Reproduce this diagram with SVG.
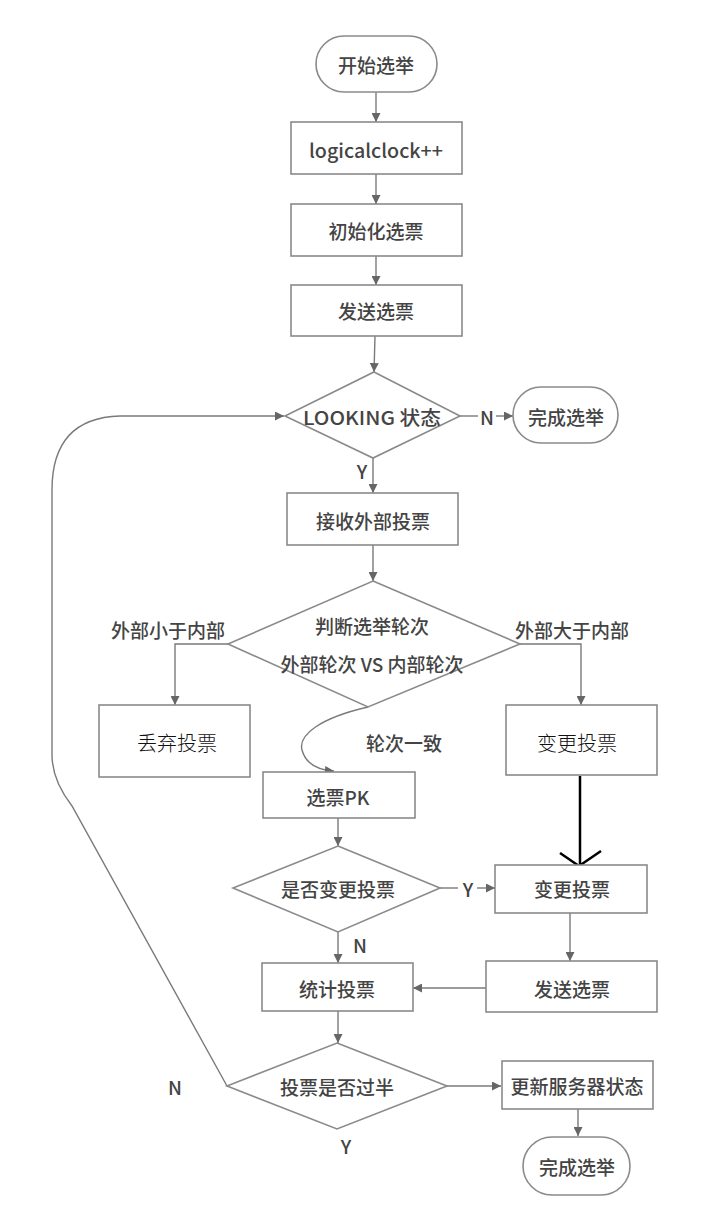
<svg xmlns="http://www.w3.org/2000/svg" width="728" height="1224" viewBox="0 0 728 1224">
<defs>
<marker id="ah" markerUnits="userSpaceOnUse" markerWidth="10" markerHeight="9" refX="9" refY="4.5" orient="auto">
<path d="M0,0 L9,4.5 L0,9 Z" fill="#666"/>
</marker>
<style>
.box{fill:#fff;stroke:#8a8a8a;stroke-width:1.6}
.ln{fill:none;stroke:#7a7a7a;stroke-width:1.4}
.t{font-family:"Noto Sans CJK SC","Noto Sans",sans-serif;font-size:19px;font-weight:500;fill:#444;text-anchor:middle;dominant-baseline:central}
.tk{font-family:"Noto Sans CJK SC","Noto Sans",sans-serif;font-size:20px;font-weight:300;fill:#111;text-anchor:middle;dominant-baseline:central}
</style>
</defs>
<rect width="728" height="1224" fill="#fff"/>

<g id="connectors">
<line class="ln" x1="376" y1="92" x2="376" y2="122" marker-end="url(#ah)"/>
<line class="ln" x1="376" y1="174" x2="376" y2="204" marker-end="url(#ah)"/>
<line class="ln" x1="376" y1="256" x2="376" y2="285" marker-end="url(#ah)"/>
<line class="ln" x1="375" y1="336" x2="374" y2="372" marker-end="url(#ah)"/>
<line class="ln" x1="460" y1="416" x2="478" y2="416"/>
<line class="ln" x1="496" y1="416" x2="513" y2="416" marker-end="url(#ah)"/>
<line class="ln" x1="373" y1="458" x2="373" y2="493" marker-end="url(#ah)"/>
<line class="ln" x1="373" y1="545" x2="373" y2="581" marker-end="url(#ah)"/>
<polyline class="ln" points="228,644 175,644 175,705" marker-end="url(#ah)"/>
<polyline class="ln" points="520,644 581,644 581,705" marker-end="url(#ah)"/>
<path class="ln" d="M368 707 C320 718,298 735,302 750 S318 770,334 771" marker-end="url(#ah)"/>
<line class="ln" x1="338" y1="818" x2="338" y2="846" marker-end="url(#ah)"/>
<line class="ln" x1="440" y1="888" x2="458" y2="888"/>
<line class="ln" x1="477" y1="888" x2="495" y2="888" marker-end="url(#ah)"/>
<line class="ln" x1="338" y1="932" x2="338" y2="963" marker-end="url(#ah)"/>
<line class="ln" x1="570" y1="913" x2="570" y2="961" marker-end="url(#ah)"/>
<line class="ln" x1="486" y1="988" x2="413" y2="988" marker-end="url(#ah)"/>
<line class="ln" x1="338" y1="1011" x2="338" y2="1043" marker-end="url(#ah)"/>
<line class="ln" x1="447" y1="1086" x2="501" y2="1086" marker-end="url(#ah)"/>
<line class="ln" x1="578" y1="1109" x2="578" y2="1136" marker-end="url(#ah)"/>
<path class="ln" d="M227 1086 L72 806 Q52 780 52 755 L52 490 Q52 418 120 416 L284 416" marker-end="url(#ah)"/>
<line x1="580" y1="776" x2="580" y2="865" stroke="#000" stroke-width="2.5"/>
<polyline points="560,853 579,866 601,851" fill="none" stroke="#000" stroke-width="2.5"/>
</g>

<g id="n-start"><rect class="box" x="316" y="36" width="121" height="56" rx="28"/><text class="t" x="376" y="64">开始选举</text></g>
<g id="n-clock"><rect class="box" x="291" y="122" width="171" height="52"/><text class="t" x="376" y="149" textLength="134" lengthAdjust="spacingAndGlyphs">logicalclock++</text></g>
<g id="n-init"><rect class="box" x="291" y="204" width="171" height="52"/><text class="t" x="376" y="230">初始化选票</text></g>
<g id="n-send1"><rect class="box" x="291" y="285" width="171" height="51"/><text class="t" x="376" y="310">发送选票</text></g>
<g id="n-looking"><polygon class="box" points="374,372 460,416 373,458 285,416"/><text class="t" x="372" y="416" textLength="138" lengthAdjust="spacingAndGlyphs">LOOKING 状态</text></g>
<g id="n-done1"><rect class="box" x="513" y="387" width="105" height="56" rx="28"/><text class="t" x="566" y="416">完成选举</text></g>
<g id="n-recv"><rect class="box" x="287" y="493" width="171" height="52"/><text class="t" x="373" y="520">接收外部投票</text></g>
<g id="n-round"><polygon class="box" points="373,581 520,644 368,707 228,644"/><text class="t" x="372" y="625">判断选举轮次</text><text class="t" x="372" y="663">外部轮次 VS 内部轮次</text></g>
<g id="n-discard"><rect class="box" x="99" y="705" width="151" height="72"/><text class="tk" x="177" y="742">丢弃投票</text></g>
<g id="n-change1"><rect class="box" x="506" y="705" width="151" height="70"/><text class="tk" x="577" y="742">变更投票</text></g>
<g id="n-pk"><rect class="box" x="263" y="772" width="152" height="46"/><text class="t" x="338" y="796">选票PK</text></g>
<g id="n-ischange"><polygon class="box" points="338,846 440,888 338,932 233,888"/><text class="t" x="338" y="888">是否变更投票</text></g>
<g id="n-change2"><rect class="box" x="495" y="865" width="152" height="48"/><text class="t" x="572" y="888">变更投票</text></g>
<g id="n-count"><rect class="box" x="262" y="963" width="151" height="48"/><text class="t" x="337" y="988">统计投票</text></g>
<g id="n-send2"><rect class="box" x="486" y="961" width="171" height="51"/><text class="t" x="572" y="988">发送选票</text></g>
<g id="n-half"><polygon class="box" points="337,1043 447,1086 337,1129 227,1086"/><text class="t" x="337" y="1086">投票是否过半</text></g>
<g id="n-update"><rect class="box" x="502" y="1061" width="151" height="48"/><text class="t" x="577" y="1085">更新服务器状态</text></g>
<g id="n-done2"><rect class="box" x="523" y="1137" width="107" height="58" rx="29"/><text class="t" x="577" y="1166">完成选举</text></g>

<g id="labels">
<text class="t" x="487" y="416">N</text>
<text class="t" x="362" y="470">Y</text>
<text class="t" x="168" y="629">外部小于内部</text>
<text class="t" x="572" y="629">外部大于内部</text>
<text class="t" x="404" y="742">轮次一致</text>
<text class="t" x="468" y="888">Y</text>
<text class="t" x="360" y="944">N</text>
<text class="t" x="175" y="1086">N</text>
<text class="t" x="346" y="1145">Y</text>
</g>
</svg>
